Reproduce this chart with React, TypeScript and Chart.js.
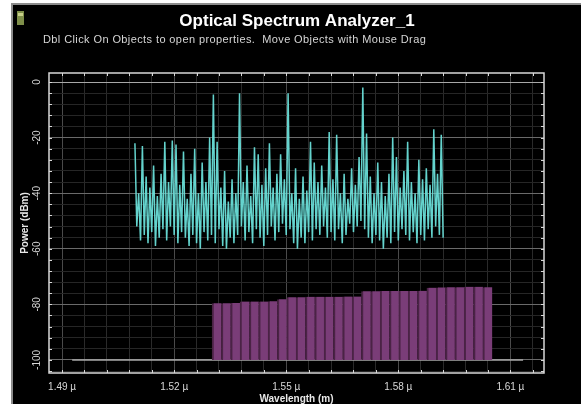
import React, { useEffect, useRef } from "react";
import { Chart, registerables } from "chart.js";

Chart.register(...registerables);

// ---- texts ----
const TITLE = "Optical Spectrum Analyzer_1";
const SUBTITLE = "Dbl Click On Objects to open properties.  Move Objects with Mouse Drag";
const X_TITLE = "Wavelength (m)";
const Y_TITLE = "Power (dBm)";

// ---- axes ----
const X_MIN = 1.4865;
const X_MAX = 1.619;
const Y_MIN = -104.7;
const Y_MAX = 3.25;
const X_TICKS = [1.49, 1.52, 1.55, 1.58, 1.61];
const X_TICK_LABELS = ["1.49 µ", "1.52 µ", "1.55 µ", "1.58 µ", "1.61 µ"];
const Y_TICKS = [0, -20, -40, -60, -80, -100];
const Y_TICK_LABELS = ["0", "-20", "-40", "-60", "-80", "-100"];

// ---- signal trace (cyan) sampled on a regular wavelength grid ----
const CYAN_START = 1.5095;
const CYAN_STEP = 0.0005;
const CYAN_POWER = [
  -22, -52, -40, -57, -23, -55, -34, -58, -38, -54,
  -30, -59, -41, -56, -33, -53, -21.5, -57, -36, -52,
  -21, -55, -22.5, -58, -37, -54, -25, -56, -42, -59,
  -33, -55, -24, -58, -40, -60, -29, -54, -36, -57,
  -20, -55, -4.5, -58, -21.5, -53, -38, -59, -32, -60,
  -43, -56, -35, -58, -40, -55, -4, -52, -36, -57,
  -30, -54, -41, -58, -23.5, -53, -26, -56, -37, -59,
  -31, -55, -22, -52, -38, -57, -33, -54, -26, -51,
  -35, -55, -4, -53, -40, -58, -31, -60, -42, -56,
  -34, -58, -39, -54, -21.5, -57, -29, -53, -36, -55,
  -30, -52, -38, -56, -18, -54, -35, -57, -19, -53,
  -40, -58, -33, -55, -42, -51, -31, -54, -37, -52,
  -27, -50, -2, -53, -18.5, -56, -34, -58, -40, -55,
  -29, -57, -36, -60, -41, -56, -33, -58, -20, -54,
  -27, -57, -38, -53, -32, -55, -21.5, -57, -36, -54,
  -40, -58, -28, -55, -35, -57, -31, -53, -37, -56,
  -17, -52, -33, -55, -19, -56,
];

// ---- second trace (purple bars) ----
const PURPLE_WL = [
  1.5314, 1.5339, 1.5364, 1.5389, 1.5414, 1.5439, 1.5464, 1.5489, 1.5514, 1.5539,
  1.5564, 1.5589, 1.5614, 1.5639, 1.5664, 1.5689, 1.5714, 1.5739, 1.5764, 1.5789,
  1.5814, 1.5839, 1.5864, 1.5889, 1.5914, 1.5939, 1.5964, 1.5989, 1.6014, 1.6039,
];
const PURPLE_POWER = [
  -79.6, -79.6, -79.5, -79.0, -79.0, -79.0, -78.9, -78.2, -77.4, -77.4,
  -77.3, -77.3, -77.3, -77.3, -77.2, -77.2, -75.3, -75.3, -75.2, -75.2,
  -75.2, -75.2, -75.1, -74.0, -73.9, -73.8, -73.8, -73.7, -73.7, -73.8,
];
const FLOOR_WL = [1.4927, 1.6134];
const FLOOR_POWER = [-100, -100];

const FONT = "'Liberation Sans', Arial, sans-serif";

export default function App() {
  const ref = useRef<HTMLCanvasElement | null>(null);

  useEffect(() => {
    document.body.style.margin = "0";
    const canvas = ref.current;
    if (!canvas) return;

    const xGrid: number[] = [];
    for (let k = 0; k <= 21; k++) xGrid.push(+(1.49 + 0.006 * k).toFixed(4));
    const yGrid: number[] = [];
    for (let v = 0; v >= -104; v -= 4) yGrid.push(v);

    const isXMajor = (v: number) => X_TICKS.some((t) => Math.abs(t - v) < 1e-6);
    const isYMajor = (v: number) => Y_TICKS.some((t) => Math.abs(t - v) < 1e-6);

    const cyanData = CYAN_POWER.map((y, i) => ({ x: CYAN_START + i * CYAN_STEP, y }));
    const purpleData = PURPLE_WL.map((x, i) => ({ x, y: [-100, PURPLE_POWER[i]] }));
    const floorData = FLOOR_WL.map((x, i) => ({ x, y: FLOOR_POWER[i] }));

    const background = {
      id: "bg",
      beforeDraw(chart: any) {
        const c = chart.ctx;
        c.save();
        c.fillStyle = "#ffffff";
        c.fillRect(0, 0, chart.width, chart.height);
        c.fillStyle = "#000000";
        c.fillRect(12, 4, chart.width - 12, 400);
        c.strokeStyle = "#8c8c8c";
        c.lineWidth = 2;
        c.beginPath();
        c.moveTo(12, 404);
        c.lineTo(12, 4);
        c.lineTo(chart.width, 4);
        c.stroke();
        // small window icon
        c.fillStyle = "#7f8f4a";
        c.fillRect(17, 11, 7, 14);
        c.fillStyle = "#c8d08a";
        c.fillRect(18, 13, 5, 3);
        c.restore();
      },
    };

    const frame = {
      id: "frame",
      afterDraw(chart: any) {
        const c = chart.ctx;
        const a = chart.chartArea;
        const xs = chart.scales.x;
        const ys = chart.scales.y;
        c.save();
        c.strokeStyle = "#d8d8d8";
        c.lineWidth = 1.5;
        c.strokeRect(a.left, a.top, a.right - a.left, a.bottom - a.top);
        c.lineWidth = 1;
        c.beginPath();
        xGrid.forEach((v) => {
          const px = Math.round(xs.getPixelForValue(v)) + 0.5;
          c.moveTo(px, a.top);
          c.lineTo(px, a.top + 3);
          c.moveTo(px, a.bottom);
          c.lineTo(px, a.bottom - 3);
        });
        yGrid.forEach((v) => {
          const py = Math.round(ys.getPixelForValue(v)) + 0.5;
          c.moveTo(a.left, py);
          c.lineTo(a.left + 3, py);
          c.moveTo(a.right, py);
          c.lineTo(a.right - 3, py);
        });
        c.stroke();
        // titles
        c.fillStyle = "#ffffff";
        c.textBaseline = "middle";
        c.textAlign = "center";
        c.font = `bold 17px ${FONT}`;
        c.fillText(TITLE, 297, 21);
        c.fillStyle = "#d6d6d6";
        c.textAlign = "left";
        c.font = `11px ${FONT}`;
        try {
          (c as any).letterSpacing = "0.4px";
        } catch (e) {}
        c.fillText(SUBTITLE, 43, 40);
        c.restore();
      },
    };

    const chart = new Chart(canvas, {
      type: "bar",
      data: {
        datasets: [
          {
            type: "line",
            data: cyanData as any,
            borderColor: "rgba(105,222,216,0.95)",
            borderWidth: 1.5,
            pointRadius: 0,
            tension: 0,
          },
          {
            type: "bar",
            data: purpleData as any,
            backgroundColor: "#7a3d78",
            borderColor: "#4a2345",
            borderWidth: { left: 2, right: 0, top: 0, bottom: 0 } as any,
            borderSkipped: false,
            barPercentage: 1,
            categoryPercentage: 1,
          },
          {
            type: "line",
            data: floorData as any,
            borderColor: "#a8a8a8",
            borderWidth: 1.5,
            pointRadius: 0,
          },
        ],
      },
      options: {
        animation: false,
        responsive: false,
        maintainAspectRatio: false,
        devicePixelRatio: 1,
        layout: { padding: { left: 12, top: 73, right: 37, bottom: 0 } },
        plugins: {
          legend: { display: false },
          tooltip: { enabled: false },
          title: { display: false },
        },
        scales: {
          x: {
            type: "linear",
            min: X_MIN,
            max: X_MAX,
            offset: false,
            afterBuildTicks: (s: any) => {
              s.ticks = xGrid.map((v) => ({ value: v }));
            },
            afterFit: (s: any) => {
              s.height = 35;
            },
            grid: {
              offset: false,
              drawTicks: false,
              color: (ctx: any) =>
                ctx.tick && isXMajor(ctx.tick.value) ? "#4a4a4a" : "#2a2a2a",
              lineWidth: 1,
            },
            border: { display: false },
            ticks: {
              autoSkip: false,
              maxRotation: 0,
              minRotation: 0,
              padding: 8,
              color: "#d8d8d8",
              font: { family: FONT, size: 10 },
              callback: (v: any) => {
                const idx = X_TICKS.findIndex((t) => Math.abs(t - Number(v)) < 1e-6);
                return idx >= 0 ? X_TICK_LABELS[idx] : "";
              },
            },
            title: {
              display: true,
              text: X_TITLE,
              color: "#e8e8e8",
              font: { family: FONT, size: 10, weight: "bold" },
              padding: { top: 0, bottom: 3 },
            },
          },
          y: {
            type: "linear",
            min: Y_MIN,
            max: Y_MAX,
            afterBuildTicks: (s: any) => {
              s.ticks = yGrid.map((v) => ({ value: v }));
            },
            afterFit: (s: any) => {
              s.width = 37;
            },
            grid: {
              drawTicks: false,
              color: (ctx: any) => {
                if (!ctx.tick) return "#2a2a2a";
                if (ctx.tick.value === 0) return "#a8a8a8";
                return isYMajor(ctx.tick.value) ? "#6a6a6a" : "#262626";
              },
              lineWidth: 1,
            },
            border: { display: false },
            ticks: {
              autoSkip: false,
              minRotation: 90,
              maxRotation: 90,
              crossAlign: "center",
              padding: 2,
              color: "#d8d8d8",
              font: { family: FONT, size: 10 },
              callback: (v: any) => {
                const idx = Y_TICKS.findIndex((t) => Math.abs(t - Number(v)) < 1e-6);
                return idx >= 0 ? Y_TICK_LABELS[idx] : "";
              },
            },
            title: {
              display: true,
              text: Y_TITLE,
              color: "#e8e8e8",
              font: { family: FONT, size: 10, weight: "bold" },
              padding: { top: 7, bottom: 0 },
            },
          },
        },
      } as any,
      plugins: [background, frame],
    });

    return () => chart.destroy();
  }, []);

  return (
    <div style={{ width: 581, height: 408 }}>
      <canvas ref={ref} width={581} height={408} style={{ display: "block" }} />
    </div>
  );
}
